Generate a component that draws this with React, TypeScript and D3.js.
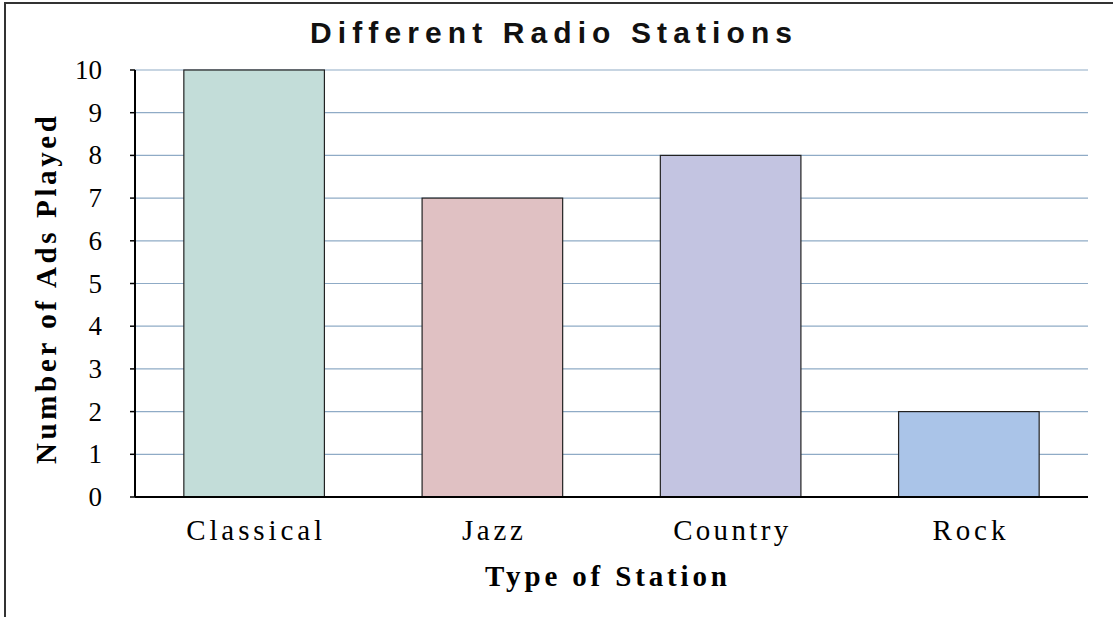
import React from "react";
import * as d3 from "d3";

const categories = ["Classical", "Jazz", "Country", "Rock"];
const values = [10, 7, 8, 2];
const barColors = ["#c3ddd9", "#e0c1c3", "#c3c4e1", "#aac4e8"];
const labelWidths = [136, 61, 115, 73];
const yTicks = [0, 1, 2, 3, 4, 5, 6, 7, 8, 9, 10];
const title = "Different Radio Stations";
const xTitle = "Type of Station";
const yTitle = "Number of Ads Played";

export default function App() {
  const W = 1113, H = 617;
  const left = 135, right = 1088, top = 70, bottom = 497;
  const x = d3.scaleBand<string>().domain(categories).range([left, right]).paddingInner(0.41).paddingOuter(0.205);
  const y = d3.scaleLinear().domain([0, 10]).range([bottom, top]);
  const serif = "'Liberation Serif', 'Times New Roman', serif";
  const sans = "'Liberation Sans', Arial, sans-serif";
  return (
    <svg width={W} height={H} style={{ position: "absolute", left: 0, top: 0, background: "#fff" }}>
      <rect x={5} y={3} width={W} height={H + 10} fill="#fff" stroke="#333" strokeWidth={2} />
      <text x={310} y={43} fontFamily={sans} fontWeight="bold" fontSize={30} textLength={482} lengthAdjust="spacing" fill="#111">{title}</text>
      {yTicks.map((t) => (
        <g key={t}>
          {t > 0 && <line x1={left} x2={right} y1={y(t)} y2={y(t)} stroke="#8fabc6" strokeWidth={1.2} />}
          <line x1={left - 5} x2={left} y1={y(t)} y2={y(t)} stroke="#000" strokeWidth={1.5} />
          <text x={102} y={y(t) + 9} textAnchor="end" fontFamily={serif} fontSize={27} fill="#000">{t}</text>
        </g>
      ))}
      {categories.map((c, i) => (
        <g key={c}>
          <rect x={x(c)} y={y(values[i])} width={x.bandwidth()} height={y(0) - y(values[i])} fill={barColors[i]} stroke="#222" strokeWidth={1.2} />
          <text x={(x(c) as number) + x.bandwidth() / 2 - labelWidths[i] / 2} y={540} fontFamily={serif} fontSize={29} textLength={labelWidths[i]} lengthAdjust="spacing" fill="#000">{c}</text>
        </g>
      ))}
      <line x1={left} x2={left} y1={top} y2={bottom} stroke="#000" strokeWidth={2} />
      <line x1={left} x2={right} y1={bottom} y2={bottom} stroke="#000" strokeWidth={2} />
      <text x={485} y={586} fontFamily={serif} fontWeight="bold" fontSize={29} textLength={242} lengthAdjust="spacing" fill="#000">{xTitle}</text>
      <text transform={`translate(56,464) rotate(-90)`} fontFamily={serif} fontWeight="bold" fontSize={29} textLength={348} lengthAdjust="spacing" fill="#000">{yTitle}</text>
    </svg>
  );
}
